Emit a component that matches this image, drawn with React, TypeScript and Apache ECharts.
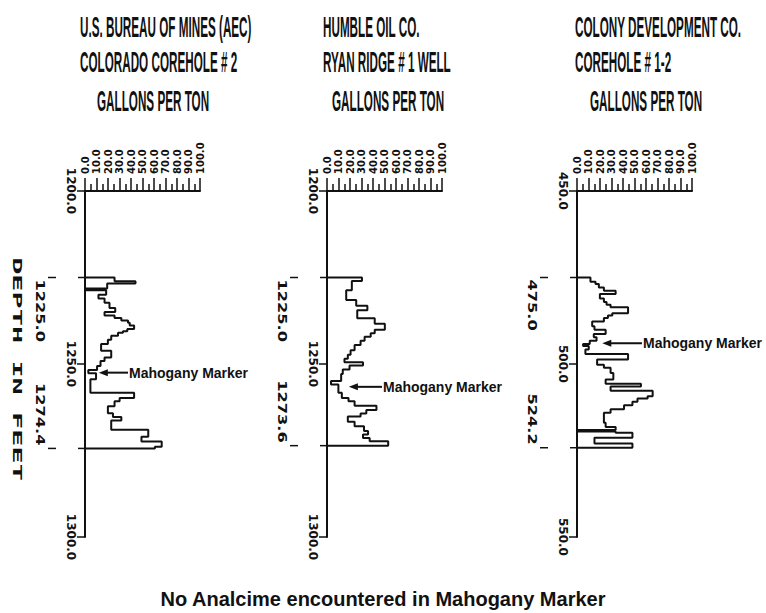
import React, { useEffect, useRef } from 'react';
import * as echarts from 'echarts';

// ---------- text ----------
const titleLines = [
  ['U.S. BUREAU OF MINES (AEC)', 'COLORADO COREHOLE # 2'],
  ['HUMBLE OIL CO.', 'RYAN RIDGE # 1 WELL'],
  ['COLONY DEVELOPMENT CO.', 'COREHOLE # 1-2'],
];
const xAxisTitle = 'GALLONS PER TON';
const yAxisTitle = 'DEPTH IN FEET';
const caption = 'No Analcime encountered in Mahogany Marker';
const markerText = 'Mahogany Marker';

// ---------- axes ----------
const gallonsMin = 0;
const gallonsMax = 100;
const gallonsStep = 10;
const depthMin = [1200, 1200, 450];
const depthMax = [1300, 1300, 550];
const depthStep = 50;

// ---------- oil-yield logs (depth boundaries in feet, yield in gallons per ton) ----------
const coloradoDepths = [
  1225.0, 1226.1, 1226.7, 1228.2, 1228.7, 1230.0, 1231.1, 1232.3, 1233.8, 1235.0,
  1236.0, 1236.7, 1237.4, 1238.1, 1238.9, 1239.9, 1240.5, 1241.0, 1241.8, 1243.0,
  1244.2, 1246.2, 1248.1, 1249.1, 1250.6, 1251.7, 1252.7, 1254.4, 1258.3, 1259.8,
  1260.8, 1262.2, 1264.2, 1265.3, 1266.3, 1269.0, 1271.0, 1272.4, 1273.9, 1274.4,
];
const coloradoYield = [
  25.7, 43.9, 19.3, 0, 18.4, 11.7, 17.0, 21.3, 26.3, 17.0,
  25.7, 31.6, 37.4, 38.9, 42.7, 36.8, 33.0, 28.7, 22.8, 19.9,
  14.0, 22.8, 17.0, 13.5, 10.5, 2.9, 9.6, 4.7, 42.7, 30.1,
  25.7, 19.9, 24.3, 31.6, 22.8, 55.0, 49.1, 66.7, 60.8,
];

const ryanDepths = [
  1225.0, 1226.0, 1228.7, 1231.5, 1233.2, 1234.5, 1236.8, 1238.4, 1240.1, 1241.1,
  1242.1, 1243.3, 1244.5, 1246.0, 1247.3, 1248.5, 1249.5, 1250.4, 1251.6, 1252.9,
  1254.9, 1255.9, 1258.3, 1259.8, 1260.8, 1262.1, 1263.3, 1264.3, 1265.2, 1266.7,
  1268.0, 1269.4, 1270.4, 1271.4, 1272.3, 1273.6,
];
const ryanYield = [
  30.4, 21.6, 16.7, 25.4, 35.1, 26.3, 41.5, 50.3, 41.5, 38.0,
  32.7, 29.2, 24.0, 20.5, 18.1, 15.2, 31.3, 19.6, 13.7, 12.3,
  3.5, 9.9, 12.9, 18.7, 24.0, 43.0, 34.2, 29.2, 18.1, 24.0,
  32.2, 35.7, 31.3, 37.1, 53.2,
];

const colonyDepths = [
  475.0, 476.2, 476.9, 477.9, 478.8, 479.8, 481.1, 482.1, 482.9, 483.6,
  485.3, 486.0, 486.7, 487.7, 489.1, 490.1, 491.3, 492.3, 493.3, 494.2,
  494.8, 495.8, 497.1, 498.7, 500.2, 501.1, 502.6, 504.5, 505.7, 506.5,
  507.7, 509.3, 510.0, 510.9, 511.9, 513.1, 514.1, 517.0, 518.2, 519.1,
  519.5, 519.9, 521.3, 523.0, 524.2,
];
const colonyYield = [
  11.7, 16.1, 19.0, 23.4, 33.6, 19.9, 23.4, 25.7, 29.2, 44.4,
  30.7, 26.9, 23.4, 13.2, 15.2, 24.9, 14.6, 17.0, 11.1, 5.3,
  10.2, 7.3, 44.4, 17.5, 23.4, 29.2, 31.6, 24.9, 55.6, 29.2,
  65.8, 61.4, 52.6, 48.2, 40.9, 29.2, 23.4, 24.9, 33.6, 0,
  33.6, 48.2, 15.2, 48.2,
];

// ---------- Mahogany marker annotations ----------
const markerDepth = [1252.5, 1256.6, 494.0];
const markerTipYield = [12, 19, 22];
const markerTailYield = [37.4, 47.8, 56.5];

const logs = [
  { depths: coloradoDepths, values: coloradoYield },
  { depths: ryanDepths, values: ryanYield },
  { depths: colonyDepths, values: colonyYield },
];

function stepPoints(depths: number[], values: number[]) {
  const pts: number[][] = [[0, depths[0]]];
  values.forEach((v, i) => {
    pts.push([v, depths[i]]);
    pts.push([v, depths[i + 1]]);
  });
  pts.push([0, depths[depths.length - 1]]);
  return pts;
}

const BLACK = '#111';
const gridLefts = [85, 327, 577];
const titleLefts = [80, 323, 575];
const unitLefts = [97, 332, 590];

export default function App() {
  const ref = useRef<HTMLDivElement>(null);
  useEffect(() => {
    if (!ref.current) return;
    const chart = echarts.init(ref.current, null, { renderer: 'svg' });

    const option: any = {
      animation: false,
      backgroundColor: '#fff',
      title: {
        text: caption,
        left: 'center',
        top: 584,
        textStyle: { fontFamily: 'Liberation Sans', fontWeight: 'bold', fontSize: 20, color: BLACK },
      },
      grid: gridLefts.map((l) => ({ left: l, top: 191, width: 115, height: 346 })),
      xAxis: logs.map((_, i) => ({
        gridIndex: i,
        type: 'value',
        position: 'top',
        min: gallonsMin,
        max: gallonsMax,
        interval: gallonsStep,
        splitLine: { show: false },
        axisLine: { show: true, onZero: false, lineStyle: { color: BLACK, width: 2 } },
        axisTick: { show: true, length: 13, lineStyle: { color: BLACK, width: 1.5 } },
        minorTick: { show: true, splitNumber: 2, length: 7, lineStyle: { color: BLACK, width: 1.5 } },
        axisLabel: {
          show: true,
          rotate: -90,
          margin: 17,
          showMinLabel: true,
          showMaxLabel: true,
          formatter: (v: number) => v.toFixed(1),
          fontFamily: 'DejaVu Sans',
          fontWeight: 'bold',
          fontSize: 10,
          color: BLACK,
        },
      })),
      yAxis: logs.map((_, i) => ({
        gridIndex: i,
        type: 'value',
        inverse: true,
        min: depthMin[i],
        max: depthMax[i],
        interval: depthStep,
        splitLine: { show: false },
        axisLine: { show: true, onZero: false, lineStyle: { color: BLACK, width: 2 } },
        axisTick: { show: true, length: 8, lineStyle: { color: BLACK, width: 1.5 } },
        axisLabel: {
          show: true,
          rotate: -90,
          margin: 8,
          showMinLabel: true,
          showMaxLabel: true,
          formatter: (v: number) => v.toFixed(1),
          fontFamily: 'DejaVu Sans',
          fontWeight: 'bold',
          fontSize: 12,
          color: BLACK,
        },
      })),
      series: logs.map((log, i) => ({
        type: 'line',
        xAxisIndex: i,
        yAxisIndex: i,
        data: stepPoints(log.depths, log.values),
        showSymbol: false,
        symbol: 'none',
        clip: false,
        lineStyle: { color: BLACK, width: 2 },
      })),
    };
    chart.setOption(option);

    const els: any[] = [];
    // titles
    titleLines.forEach((lines, i) => {
      lines.forEach((t, j) => {
        els.push({
          type: 'text', x: titleLefts[i], y: j === 0 ? 26 : 61, scaleX: 0.39,
          style: { text: t, fontFamily: 'Liberation Sans', fontWeight: 'bold', fontSize: 30, fill: BLACK, textAlign: 'left', verticalAlign: 'middle' },
        });
      });
      els.push({
        type: 'text', x: unitLefts[i], y: 100, scaleX: 0.39,
        style: { text: xAxisTitle, fontFamily: 'Liberation Sans', fontWeight: 'bold', fontSize: 30, fill: BLACK, textAlign: 'left', verticalAlign: 'middle' },
      });
    });
    // y axis title
    els.push({
      type: 'text', x: 18, y: 369, rotation: -Math.PI / 2, scaleX: 2.2,
      style: { text: yAxisTitle, fontFamily: 'DejaVu Sans Mono', fontWeight: 'bold', fontSize: 13, fill: BLACK, textAlign: 'center', verticalAlign: 'middle' },
    });

    logs.forEach((log, i) => {
      const toPx = (v: number, d: number) => chart.convertToPixel({ gridIndex: i } as any, [v, d]) as unknown as number[];
      const top = log.depths[0];
      const bot = log.depths[log.depths.length - 1];
      const pTop = toPx(0, top);
      const pBot = toPx(0, bot);
      const ax = pTop[0];
      // interval depth labels
      els.push({
        type: 'text', x: ax - 45, y: pTop[1] + 2, rotation: -Math.PI / 2, scaleX: 1.35,
        style: { text: top.toFixed(1), fontFamily: 'DejaVu Sans', fontWeight: 'bold', fontSize: 12, fill: BLACK, textAlign: 'left', verticalAlign: 'middle' },
      });
      els.push({
        type: 'text', x: ax - 45, y: pBot[1] - 3, rotation: -Math.PI / 2, scaleX: 1.35,
        style: { text: bot.toFixed(1), fontFamily: 'DejaVu Sans', fontWeight: 'bold', fontSize: 12, fill: BLACK, textAlign: 'right', verticalAlign: 'middle' },
      });
      [pTop[1], pBot[1]].forEach((yy) => {
        els.push({ type: 'line', shape: { x1: ax - 37, y1: yy, x2: ax - 29, y2: yy }, style: { stroke: BLACK, lineWidth: 1.5 } });
        els.push({ type: 'line', shape: { x1: ax - 7, y1: yy, x2: ax, y2: yy }, style: { stroke: BLACK, lineWidth: 1.5 } });
      });
      // Mahogany marker arrow
      const tip = toPx(markerTipYield[i], markerDepth[i]);
      const tail = toPx(markerTailYield[i], markerDepth[i]);
      els.push({ type: 'line', shape: { x1: tip[0] + 6, y1: tip[1], x2: tail[0], y2: tail[1] }, style: { stroke: BLACK, lineWidth: 2 } });
      els.push({
        type: 'polygon',
        shape: { points: [[tip[0], tip[1]], [tip[0] + 9, tip[1] - 3.5], [tip[0] + 9, tip[1] + 3.5]] },
        style: { fill: BLACK },
      });
      els.push({
        type: 'text', x: tail[0] + 1, y: tail[1],
        style: { text: markerText, fontFamily: 'Liberation Sans', fontWeight: 'bold', fontSize: 14, fill: BLACK, textAlign: 'left', verticalAlign: 'middle' },
      });
    });

    chart.setOption({ graphic: { elements: els } });
    return () => chart.dispose();
  }, []);

  return <div ref={ref} style={{ position: 'absolute', left: 0, top: 0, width: 766, height: 613 }} />;
}
